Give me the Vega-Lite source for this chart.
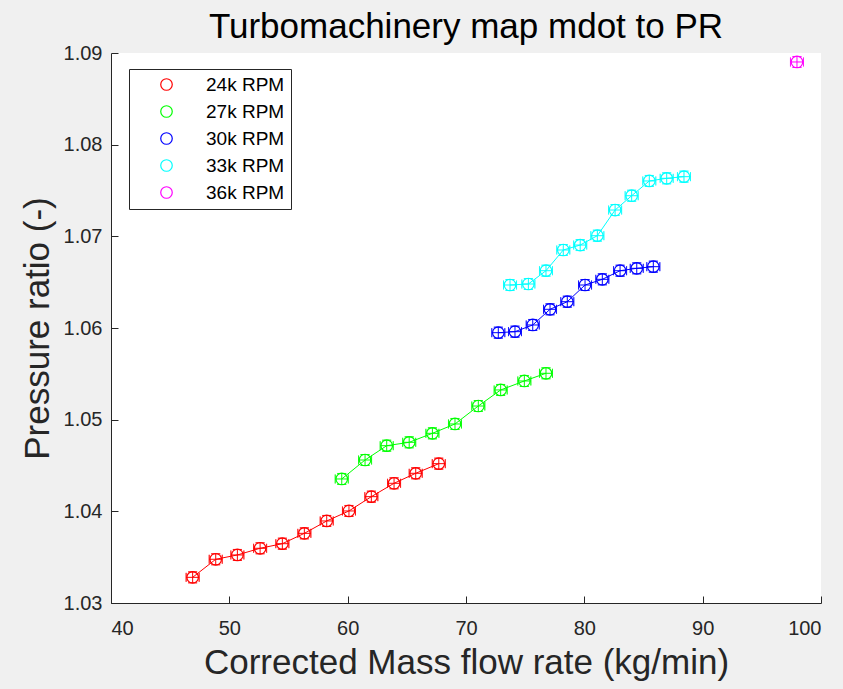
{
  "$schema": "https://vega.github.io/schema/vega-lite/v6.json",
  "autosize": "none",
  "width": 710,
  "height": 550,
  "padding": {"left": 111, "top": 53, "right": 22, "bottom": 86},
  "background": "#f0f0f0",
  "title": {"text": "Turbomachinery map mdot to PR", "font": "Liberation Sans", "fontSize": 35, "fontWeight": "normal", "color": "#000000", "anchor": "middle", "offset": -2},
  "config": {
    "view": {"stroke": null, "fill": "white"},
    "font": "Liberation Sans",
    "axis": {"grid": false, "domainColor": "#262626", "tickColor": "#262626", "labelColor": "#262626", "titleColor": "#262626", "labelFont": "Liberation Sans", "titleFont": "Liberation Sans", "labelFontSize": 20, "titleFontSize": 35, "titleFontWeight": "normal", "tickSize": -7, "domainWidth": 1}
  },
  "data": {"values": [
    {"rpm": "24k RPM", "x": 46.9, "y": 1.0328, "xerr": 0.55, "yerr": 0.0006},
    {"rpm": "24k RPM", "x": 48.85, "y": 1.03477, "xerr": 0.55, "yerr": 0.0006},
    {"rpm": "24k RPM", "x": 50.68, "y": 1.03524, "xerr": 0.55, "yerr": 0.0006},
    {"rpm": "24k RPM", "x": 52.6, "y": 1.03597, "xerr": 0.55, "yerr": 0.0006},
    {"rpm": "24k RPM", "x": 54.48, "y": 1.03647, "xerr": 0.55, "yerr": 0.0006},
    {"rpm": "24k RPM", "x": 56.34, "y": 1.0376, "xerr": 0.55, "yerr": 0.0006},
    {"rpm": "24k RPM", "x": 58.23, "y": 1.03895, "xerr": 0.55, "yerr": 0.0006},
    {"rpm": "24k RPM", "x": 60.11, "y": 1.04004, "xerr": 0.55, "yerr": 0.0006},
    {"rpm": "24k RPM", "x": 62.0, "y": 1.0416, "xerr": 0.55, "yerr": 0.0006},
    {"rpm": "24k RPM", "x": 63.92, "y": 1.04306, "xerr": 0.55, "yerr": 0.0006},
    {"rpm": "24k RPM", "x": 65.75, "y": 1.04415, "xerr": 0.55, "yerr": 0.0006},
    {"rpm": "24k RPM", "x": 67.7, "y": 1.0452, "xerr": 0.55, "yerr": 0.0006},
    {"rpm": "27k RPM", "x": 59.5, "y": 1.04353, "xerr": 0.55, "yerr": 0.0006},
    {"rpm": "27k RPM", "x": 61.47, "y": 1.0456, "xerr": 0.55, "yerr": 0.0006},
    {"rpm": "27k RPM", "x": 63.3, "y": 1.04716, "xerr": 0.55, "yerr": 0.0006},
    {"rpm": "27k RPM", "x": 65.2, "y": 1.04753, "xerr": 0.55, "yerr": 0.0006},
    {"rpm": "27k RPM", "x": 67.16, "y": 1.04851, "xerr": 0.55, "yerr": 0.0006},
    {"rpm": "27k RPM", "x": 69.07, "y": 1.04953, "xerr": 0.55, "yerr": 0.0006},
    {"rpm": "27k RPM", "x": 71.04, "y": 1.05149, "xerr": 0.55, "yerr": 0.0006},
    {"rpm": "27k RPM", "x": 72.93, "y": 1.05324, "xerr": 0.55, "yerr": 0.0006},
    {"rpm": "27k RPM", "x": 74.93, "y": 1.05422, "xerr": 0.55, "yerr": 0.0006},
    {"rpm": "27k RPM", "x": 76.76, "y": 1.05506, "xerr": 0.55, "yerr": 0.0006},
    {"rpm": "30k RPM", "x": 72.73, "y": 1.05949, "xerr": 0.55, "yerr": 0.0006},
    {"rpm": "30k RPM", "x": 74.14, "y": 1.0596, "xerr": 0.55, "yerr": 0.0006},
    {"rpm": "30k RPM", "x": 75.64, "y": 1.06033, "xerr": 0.55, "yerr": 0.0006},
    {"rpm": "30k RPM", "x": 77.1, "y": 1.06204, "xerr": 0.55, "yerr": 0.0006},
    {"rpm": "30k RPM", "x": 78.56, "y": 1.06287, "xerr": 0.55, "yerr": 0.0006},
    {"rpm": "30k RPM", "x": 80.06, "y": 1.06469, "xerr": 0.55, "yerr": 0.0006},
    {"rpm": "30k RPM", "x": 81.52, "y": 1.06531, "xerr": 0.55, "yerr": 0.0006},
    {"rpm": "30k RPM", "x": 83.02, "y": 1.06625, "xerr": 0.55, "yerr": 0.0006},
    {"rpm": "30k RPM", "x": 84.43, "y": 1.06651, "xerr": 0.55, "yerr": 0.0006},
    {"rpm": "30k RPM", "x": 85.83, "y": 1.06669, "xerr": 0.55, "yerr": 0.0006},
    {"rpm": "33k RPM", "x": 73.72, "y": 1.06469, "xerr": 0.55, "yerr": 0.0006},
    {"rpm": "33k RPM", "x": 75.27, "y": 1.0648, "xerr": 0.55, "yerr": 0.0006},
    {"rpm": "33k RPM", "x": 76.76, "y": 1.06625, "xerr": 0.55, "yerr": 0.0006},
    {"rpm": "33k RPM", "x": 78.22, "y": 1.06851, "xerr": 0.55, "yerr": 0.0006},
    {"rpm": "33k RPM", "x": 79.65, "y": 1.06905, "xerr": 0.55, "yerr": 0.0006},
    {"rpm": "33k RPM", "x": 81.1, "y": 1.07007, "xerr": 0.55, "yerr": 0.0006},
    {"rpm": "33k RPM", "x": 82.6, "y": 1.07287, "xerr": 0.55, "yerr": 0.0006},
    {"rpm": "33k RPM", "x": 84.0, "y": 1.07443, "xerr": 0.55, "yerr": 0.0006},
    {"rpm": "33k RPM", "x": 85.49, "y": 1.07604, "xerr": 0.55, "yerr": 0.0006},
    {"rpm": "33k RPM", "x": 86.96, "y": 1.07633, "xerr": 0.55, "yerr": 0.0006},
    {"rpm": "33k RPM", "x": 88.42, "y": 1.07651, "xerr": 0.55, "yerr": 0.0006},
    {"rpm": "36k RPM", "x": 97.97, "y": 1.08902, "xerr": 0.55, "yerr": 0.0006}
  ]},
  "encoding": {
    "x": {"field": "x", "type": "quantitative", "scale": {"domain": [40, 100], "nice": false, "zero": false},
          "axis": {"title": "Corrected Mass flow rate (kg/min)", "values": [40, 50, 60, 70, 80, 90, 100], "labelPadding": 22, "titlePadding": 7}},
    "y": {"field": "y", "type": "quantitative", "scale": {"domain": [1.03, 1.09], "nice": false, "zero": false},
          "axis": {"title": "Pressure ratio (-)", "values": [1.03, 1.04, 1.05, 1.06, 1.07, 1.08, 1.09], "format": ".2f", "labelPadding": 16, "titlePadding": 8}},
    "color": {"field": "rpm", "type": "nominal",
              "scale": {"domain": ["24k RPM", "27k RPM", "30k RPM", "33k RPM", "36k RPM"], "range": ["#ff0000", "#00ff00", "#0000ff", "#00ffff", "#ff00ff"]},
              "legend": {"title": null, "orient": "none", "legendX": 18, "legendY": 16, "fillColor": "white", "strokeColor": "#262626", "padding": 6, "rowPadding": 7, "symbolType": "circle", "symbolSize": 133, "symbolStrokeWidth": 1.2, "symbolOpacity": 1, "labelFontSize": 19, "labelColor": "#000000", "labelOffset": 30, "symbolOffset": 22, "labelFont": "Liberation Sans"}}
  },
  "layer": [
    {"mark": {"type": "line", "strokeWidth": 1}},
    {"mark": {"type": "errorbar", "ticks": {"size": 9, "filled": false, "thickness": 0.01, "strokeWidth": 1}, "thickness": 1},
     "encoding": {"yError": {"field": "yerr"}}},
    {"mark": {"type": "errorbar", "ticks": {"size": 9, "filled": false, "thickness": 0.01, "strokeWidth": 1}, "thickness": 1},
     "encoding": {"xError": {"field": "xerr"}}},
    {"mark": {"type": "point", "shape": "circle", "filled": false, "size": 133, "strokeWidth": 1.2, "opacity": 1}}
  ]
}
